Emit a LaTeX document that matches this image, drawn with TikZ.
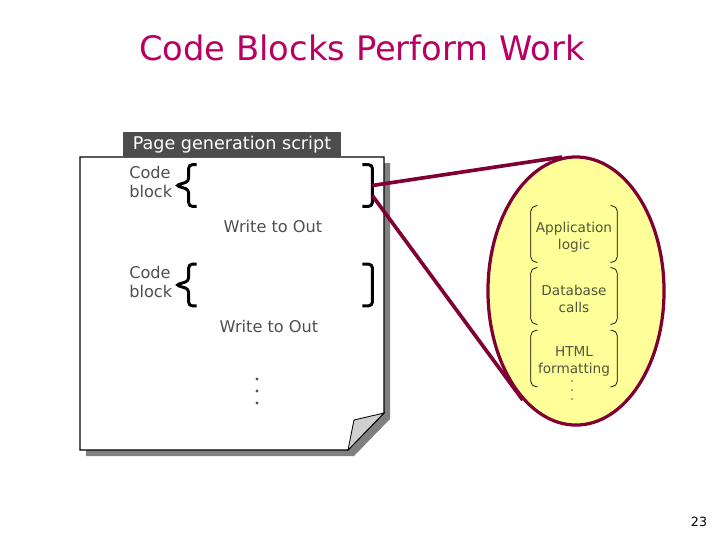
\documentclass[tikz,border=0pt]{standalone}
\usepackage{fontspec}
\setmainfont{DejaVu Sans}
\usetikzlibrary{positioning,shapes.geometric,calc}

\definecolor{titlepink}{RGB}{184,0,98}
\definecolor{linkred}{RGB}{128,0,52}
\definecolor{ovalfill}{RGB}{255,255,153}
\definecolor{hdrgray}{RGB}{77,77,77}
\definecolor{txtgray}{RGB}{80,80,80}
\definecolor{parttext}{RGB}{85,85,60}
\definecolor{shadowgray}{RGB}{128,128,128}
\definecolor{flapgray}{RGB}{208,208,208}

%% braces round a code block
\newcommand{\codebrace}[1]{%
  \draw[codebr] ($(#1.north west)+(8,0)$) -- (#1.north west) -- ($(#1.west)+(0,-4)$)
    -- ($(#1.west)+(-13,0)$) -- ($(#1.west)+(0,4)$) -- (#1.south west) -- ($(#1.south west)+(8,0)$);
  \draw[codebr] ($(#1.north east)+(-10,0)$) -- (#1.north east) -- (#1.south east) -- ($(#1.south east)+(-10,0)$);}

%% thin brackets round a part of the work (sit 3px above the text centre)
\newcommand{\partbrace}[1]{%
  \draw[partbr] ($(#1.north west)+(7,-3)$) -- ($(#1.north west)+(0,-3)$) -- ($(#1.south west)+(0,-3)$) -- ($(#1.south west)+(7,-3)$);
  \draw[partbr] ($(#1.north east)+(-7,-3)$) -- ($(#1.north east)+(0,-3)$) -- ($(#1.south east)+(0,-3)$) -- ($(#1.south east)+(-7,-3)$);}

\begin{document}
\begin{tikzpicture}[
    x=0.025cm, y=-0.025cm,
    every node/.style={font=\fontsize{11.5}{14}\selectfont, text=txtgray},
    titletext/.style={font=\fontsize{24}{28}\selectfont, text=titlepink},
    header/.style={rectangle, fill=hdrgray, text=white, minimum width=5.45cm, minimum height=0.625cm,
        inner sep=0pt, font=\fontsize{12.5}{15}\selectfont},
    blockarea/.style={rectangle, minimum width=4.575cm, minimum height=1.025cm, inner sep=0pt},
    cblabel/.style={align=left, anchor=west, inner sep=0pt},
    codebr/.style={line width=2.1pt, black, rounded corners=2.5pt},
    work/.style={ellipse, draw=linkred, line width=2.3pt, fill=ovalfill, minimum width=4.4cm, minimum height=6.7cm},
    part/.style={rectangle, minimum width=2.15cm, minimum height=1.4cm, inner sep=0pt, align=center,
        font=\fontsize{9.7}{12}\selectfont, text=parttext},
    partbr/.style={line width=0.5pt, black, rounded corners=4pt},
    link/.style={linkred, line width=2.6pt}
]
\useasboundingbox (0,0) rectangle (720,540);

%% ---- Title ----
\node[titletext] (title) at (362,48) {Code Blocks Perform Work};

%% ---- Page with folded corner ----
\fill[shadowgray] (86,163) -- (390,163) -- (390,419) -- (354,456) -- (86,456) -- cycle;
\draw[fill=white, line width=0.8pt] (80,157) -- (384,157) -- (384,413) -- (348,450) -- (80,450) -- cycle;
\draw[fill=flapgray, line width=0.6pt] (348,450) -- (354,420) -- (384,413) -- cycle;

\node[header] (hdr) at (232,144.5) {Page generation script};

%% ---- Code blocks ----
\node[blockarea] (blk1) at (280.5,185.5) {};
\node[blockarea] (blk2) at (280.5,285) {};
\codebrace{blk1}
\codebrace{blk2}

\node[cblabel] (cb1) at (129,182) {Code\\block};
\node[cblabel] (cb2) at (129,282) {Code\\block};

\node (wr1) at (273,226) {Write to Out};
\node (wr2) at (269,326) {Write to Out};

\foreach \y in {379,391,403} \fill[txtgray] (257,\y) circle (1.1pt);

%% ---- Work done by a block ----
\node[work] (wk) at (576,291) {};

\node[part] (app) at (574,237) {Application\\logic};
\node[part] (db) at (574,299) {Database\\calls};
\node[part] (html) at (574,361.5) {HTML\\formatting};
\partbrace{app}
\partbrace{db}
\partbrace{html}

\foreach \y in {381,390,399} \fill[parttext] (572,\y) circle (0.6pt);

%% ---- Links ----
\draw[link] (blk1.east) -- (wk.96);
\draw[link] ($(blk1.east)+(0,10)$) -- (wk.244);

%% ---- Slide number ----
\node[font=\fontsize{9}{11}\selectfont, text=black] (num) at (699,522) {23};

\end{tikzpicture}
\end{document}
